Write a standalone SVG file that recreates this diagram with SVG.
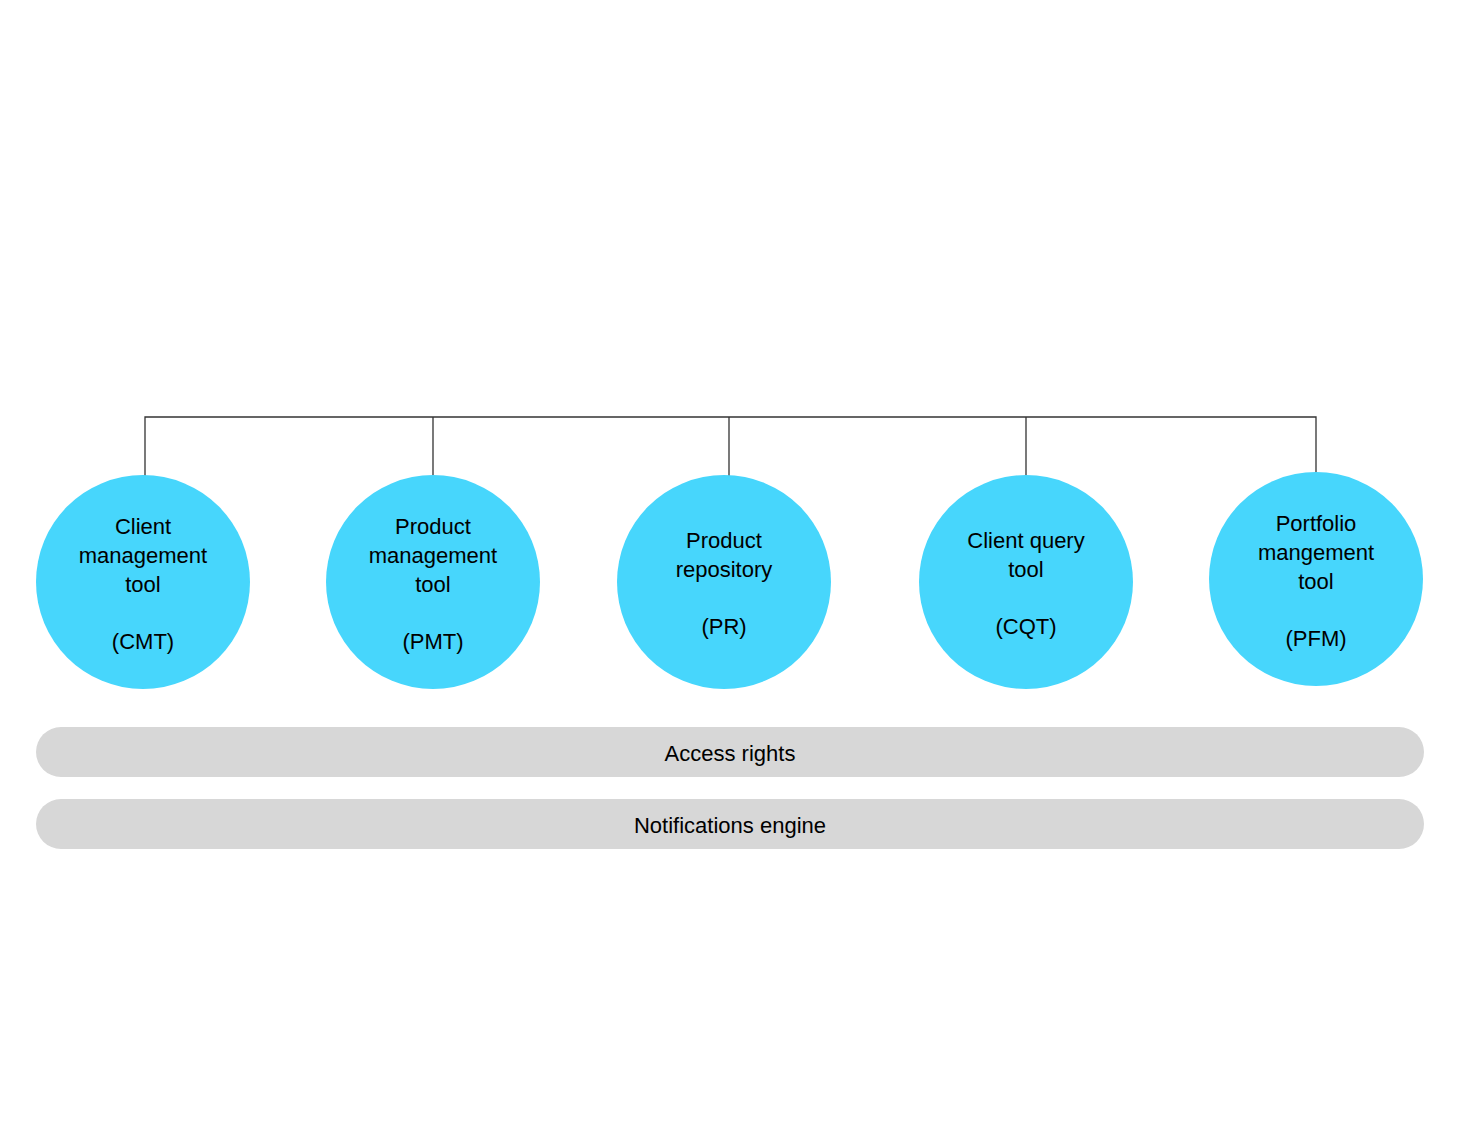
<svg xmlns="http://www.w3.org/2000/svg" width="1468" height="1148" viewBox="0 0 1468 1148">
<style>
.c{fill:#47D6FC}
.t{font-family:"Helvetica","Liberation Sans",Arial,sans-serif;font-size:22px;fill:#000;text-anchor:middle}
.bar{fill:#D7D7D7}
.ln{stroke:#333;stroke-width:1.3;fill:none}
</style>
<rect width="1468" height="1148" fill="#fff"/>
<g id="connectors">
<path class="ln" d="M145 476V417H1316V473M433 417V476M729 417V476M1026 417V476"/>
</g>
<g id="cmt"><circle class="c" cx="143" cy="582" r="107"/>
<text class="t" x="143" y="534">Client</text><text class="t" x="143" y="563">management</text><text class="t" x="143" y="592">tool</text><text class="t" x="143" y="649">(CMT)</text></g>
<g id="pmt"><circle class="c" cx="433" cy="582" r="107"/>
<text class="t" x="433" y="534">Product</text><text class="t" x="433" y="563">management</text><text class="t" x="433" y="592">tool</text><text class="t" x="433" y="649">(PMT)</text></g>
<g id="pr"><circle class="c" cx="724" cy="582" r="107"/>
<text class="t" x="724" y="548">Product</text><text class="t" x="724" y="577">repository</text><text class="t" x="724" y="634">(PR)</text></g>
<g id="cqt"><circle class="c" cx="1026" cy="582" r="107"/>
<text class="t" x="1026" y="548">Client query</text><text class="t" x="1026" y="577">tool</text><text class="t" x="1026" y="634">(CQT)</text></g>
<g id="pfm"><circle class="c" cx="1316" cy="579" r="107"/>
<text class="t" x="1316" y="531">Portfolio</text><text class="t" x="1316" y="560">mangement</text><text class="t" x="1316" y="589">tool</text><text class="t" x="1316" y="646">(PFM)</text></g>
<g id="access"><rect class="bar" x="36" y="727" width="1388" height="50" rx="25"/>
<text class="t" x="730" y="761">Access rights</text></g>
<g id="notif"><rect class="bar" x="36" y="799" width="1388" height="50" rx="25"/>
<text class="t" x="730" y="833">Notifications engine</text></g>
</svg>
